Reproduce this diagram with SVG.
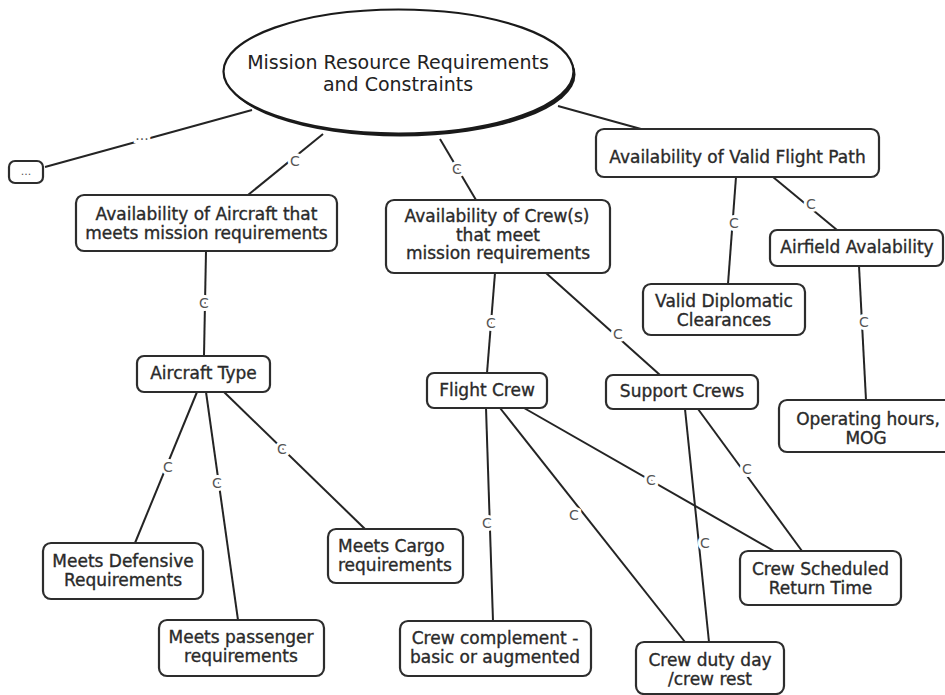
<svg xmlns="http://www.w3.org/2000/svg" width="945" height="695" viewBox="0 0 945 695">
  <style>
    .bg { fill: #ffffff; }
    .box { fill: #ffffff; stroke: #2d2d2d; stroke-width: 2.2; }
    .lbl { font-family: "DejaVu Sans", "Liberation Sans", sans-serif; font-size: 17px; fill: #2a2a2a; stroke: #2a2a2a; stroke-width: 0.35; text-anchor: middle; }
    .root { font-family: "DejaVu Sans", "Liberation Sans", sans-serif; font-size: 19px; fill: #222222; text-anchor: middle; }
    .edge { stroke: #242424; stroke-width: 2; fill: none; }
    .elbl { font-family: "DejaVu Sans", "Liberation Sans", sans-serif; font-size: 14px; fill: #555555; stroke: #ffffff; stroke-width: 6; paint-order: stroke; text-anchor: middle; }
    .dots { font-family: "DejaVu Sans", "Liberation Sans", sans-serif; font-size: 11px; fill: #555555; text-anchor: middle; }
  </style>
  <rect class="bg" x="0" y="0" width="945" height="695"/>

  <!-- connectors -->
  <g id="connectors">
    <line class="edge" x1="45" y1="167" x2="252" y2="110"/>
    <line class="edge" x1="323" y1="134" x2="248" y2="195"/>
    <line class="edge" x1="440" y1="139" x2="476" y2="200"/>
    <line class="edge" x1="558" y1="106" x2="641" y2="129"/>
    <line class="edge" x1="206" y1="251" x2="204" y2="356"/>
    <line class="edge" x1="495" y1="273" x2="487" y2="373"/>
    <line class="edge" x1="546" y1="273" x2="660" y2="375"/>
    <line class="edge" x1="736" y1="177" x2="728" y2="284"/>
    <line class="edge" x1="773" y1="177" x2="837" y2="230"/>
    <line class="edge" x1="859" y1="266" x2="866" y2="400"/>
    <line class="edge" x1="197" y1="392" x2="135" y2="543"/>
    <line class="edge" x1="206" y1="392" x2="238" y2="620"/>
    <line class="edge" x1="224" y1="392" x2="365" y2="529"/>
    <line class="edge" x1="486" y1="408" x2="493" y2="621"/>
    <line class="edge" x1="500" y1="408" x2="685" y2="642"/>
    <line class="edge" x1="524" y1="408" x2="774" y2="551"/>
    <line class="edge" x1="685" y1="409" x2="709" y2="642"/>
    <line class="edge" x1="698" y1="409" x2="802" y2="551"/>

    <text class="elbl" x="142" y="140">...</text>
    <text class="elbl" x="295" y="166">C</text>
    <text class="elbl" x="457" y="174">C</text>
    <text class="elbl" x="204" y="308">C</text>
    <text class="elbl" x="491" y="328">C</text>
    <text class="elbl" x="618" y="339">C</text>
    <text class="elbl" x="734" y="228">C</text>
    <text class="elbl" x="811" y="209">C</text>
    <text class="elbl" x="864" y="327">C</text>
    <text class="elbl" x="168" y="472">C</text>
    <text class="elbl" x="217" y="488">C</text>
    <text class="elbl" x="282" y="454">C</text>
    <text class="elbl" x="487" y="528">C</text>
    <text class="elbl" x="574" y="520">C</text>
    <text class="elbl" x="651" y="485">C</text>
    <text class="elbl" x="705" y="548">C</text>
    <text class="elbl" x="747" y="474">C</text>
  </g>

  <!-- root concept -->
  <g id="mission-root">
    <ellipse cx="400.5" cy="74.5" rx="175" ry="62" fill="#1a1a1a"/>
    <ellipse cx="398.5" cy="71.5" rx="175" ry="62" fill="#ffffff" stroke="#1a1a1a" stroke-width="2.2"/>
    <text class="root" x="398" y="69">Mission Resource Requirements</text>
    <text class="root" x="398" y="91">and Constraints</text>
  </g>

  <g id="more">
    <rect class="box" x="9" y="161" width="34" height="22" rx="6"/>
    <text class="dots" x="26" y="175">...</text>
  </g>

  <g id="aircraft-availability">
    <rect class="box" x="76" y="195" width="261" height="56" rx="8"/>
    <text class="lbl" x="206.5" y="220">Availability of Aircraft that</text>
    <text class="lbl" x="206.5" y="239">meets mission requirements</text>
  </g>

  <g id="crew-availability">
    <rect class="box" x="386" y="200" width="224" height="73" rx="8"/>
    <text class="lbl" x="497" y="222">Availability of Crew(s)</text>
    <text class="lbl" x="498" y="240.5">that meet</text>
    <text class="lbl" x="498" y="259">mission requirements</text>
  </g>

  <g id="flight-path">
    <rect class="box" x="596" y="129" width="283" height="48" rx="8"/>
    <text class="lbl" x="737.5" y="163">Availability of Valid Flight Path</text>
  </g>

  <g id="airfield">
    <rect class="box" x="770" y="230" width="173" height="36" rx="7"/>
    <text class="lbl" x="857" y="253">Airfield Avalability</text>
  </g>

  <g id="diplomatic">
    <rect class="box" x="643" y="284" width="162" height="51" rx="8"/>
    <text class="lbl" x="724" y="307">Valid Diplomatic</text>
    <text class="lbl" x="724" y="326">Clearances</text>
  </g>

  <g id="aircraft-type">
    <rect class="box" x="137" y="356" width="133" height="36" rx="7"/>
    <text class="lbl" x="203.5" y="379">Aircraft Type</text>
  </g>

  <g id="flight-crew">
    <rect class="box" x="427" y="373" width="120" height="35" rx="7"/>
    <text class="lbl" x="487" y="396">Flight Crew</text>
  </g>

  <g id="support-crews">
    <rect class="box" x="606" y="375" width="152" height="34" rx="7"/>
    <text class="lbl" x="682" y="397">Support Crews</text>
  </g>

  <g id="operating-hours">
    <rect class="box" x="779" y="400" width="178" height="52" rx="8"/>
    <text class="lbl" x="868" y="424.5">Operating hours,</text>
    <text class="lbl" x="866" y="443.5">MOG</text>
  </g>

  <g id="defensive">
    <rect class="box" x="43" y="543" width="160" height="56" rx="8"/>
    <text class="lbl" x="123" y="567">Meets Defensive</text>
    <text class="lbl" x="123" y="586">Requirements</text>
  </g>

  <g id="cargo">
    <rect class="box" x="328" y="529" width="135" height="54" rx="8"/>
    <text class="lbl" x="338" y="552" style="text-anchor:start">Meets Cargo</text>
    <text class="lbl" x="338" y="571" style="text-anchor:start">requirements</text>
  </g>

  <g id="passenger">
    <rect class="box" x="159" y="620" width="165" height="56" rx="8"/>
    <text class="lbl" x="241" y="643">Meets passenger</text>
    <text class="lbl" x="241" y="662">requirements</text>
  </g>

  <g id="crew-complement">
    <rect class="box" x="400" y="621" width="191" height="55" rx="8"/>
    <text class="lbl" x="495" y="644">Crew complement -</text>
    <text class="lbl" x="495" y="663">basic or augmented</text>
  </g>

  <g id="crew-duty">
    <rect class="box" x="636" y="642" width="148" height="52" rx="8"/>
    <text class="lbl" x="710" y="665.5">Crew duty day</text>
    <text class="lbl" x="710" y="684.5">/crew rest</text>
  </g>

  <g id="crew-return">
    <rect class="box" x="740" y="551" width="161" height="54" rx="8"/>
    <text class="lbl" x="820.5" y="575">Crew Scheduled</text>
    <text class="lbl" x="820.5" y="594">Return Time</text>
  </g>
</svg>
